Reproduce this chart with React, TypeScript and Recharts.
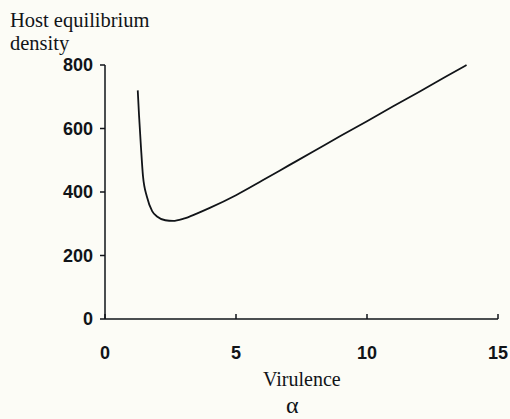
import React from "react";
import { LineChart, Line, XAxis, YAxis } from "recharts";

const virulence = [1.25, 1.3, 1.37, 1.45, 1.6, 1.8, 2.0, 2.3, 2.6, 3.0, 3.5, 4.0, 5, 6, 7, 8, 9, 10, 11, 12, 13, 13.8];
const hostDensity = [720, 640, 545, 450, 385, 340, 322, 311, 309, 316, 332, 350, 390, 436, 483, 530, 577, 623, 670, 716, 763, 800];
const xTicks = [0, 5, 10, 15];
const yTicks = [0, 200, 400, 600, 800];

const data = virulence.map((a, i) => ({ a, h: hostDensity[i] }));

const BG = "#FCFCF6";
const INK = "#111418";
const tickFont = { fontFamily: "'Liberation Sans', Arial, sans-serif", fontWeight: 700, fontSize: 18, fill: INK };
const serif = "'Liberation Serif', 'Times New Roman', serif";

export default function App() {
  return (
    <div style={{ position: "absolute", left: 0, top: 0, width: 510, height: 419, background: BG, overflow: "hidden" }}>
      <div style={{ position: "absolute", left: 10, top: 9, fontFamily: serif, fontSize: 20.5, lineHeight: "23px", color: INK }}>
        Host equilibrium<br />density
      </div>
      <LineChart width={510} height={419} data={data} margin={{ top: 65, right: 12, bottom: 70, left: 45 }}>
        <XAxis
          dataKey="a"
          type="number"
          domain={[0, 15]}
          ticks={xTicks}
          height={30}
          tickSize={-5}
          tickMargin={32}
          stroke={INK}
          strokeWidth={1.5}
          tick={tickFont}
          interval={0}
        />
        <YAxis
          dataKey="h"
          type="number"
          domain={[0, 800]}
          ticks={yTicks}
          width={60}
          tickSize={5}
          tickMargin={7}
          stroke={INK}
          strokeWidth={1.5}
          tick={tickFont}
          interval={0}
        />
        <Line type="monotone" dataKey="h" stroke={INK} strokeWidth={1.8} dot={false} isAnimationActive={false} />
      </LineChart>
      <div style={{ position: "absolute", left: 263, top: 367, fontFamily: serif, fontSize: 20, color: INK, lineHeight: "24px" }}>
        Virulence
      </div>
      <div style={{ position: "absolute", left: 286, top: 394, fontFamily: serif, fontSize: 24, color: INK, lineHeight: "22px" }}>
        α
      </div>
    </div>
  );
}
